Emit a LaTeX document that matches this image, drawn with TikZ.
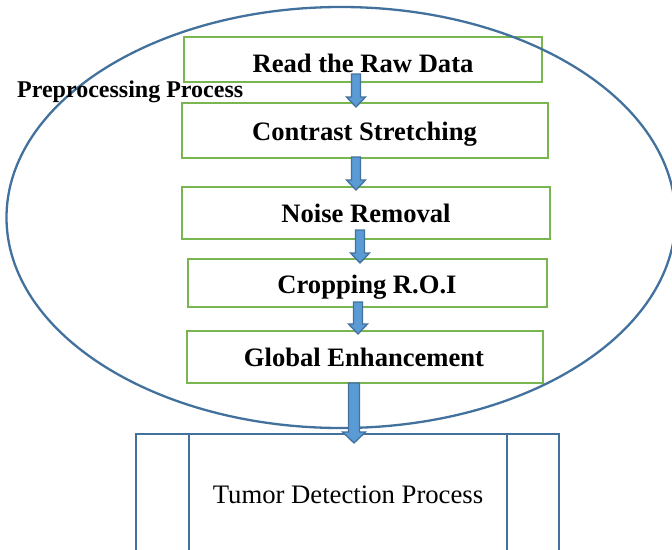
\documentclass[tikz,border=0pt]{standalone}
\usepackage{fontspec}
\setmainfont{Liberation Serif}
\usetikzlibrary{calc,shapes.geometric}
\definecolor{boxgreen}{RGB}{122,182,80}
\definecolor{ellblue}{RGB}{65,113,156}
\definecolor{arrfill}{RGB}{91,155,213}
\definecolor{arrline}{RGB}{65,113,156}
\tikzset{
  stepbox/.style={draw=boxgreen, line width=1.2pt, rectangle, inner sep=0pt},
  steptext/.style={anchor=base, inner sep=0pt, font=\fontsize{26.6}{29}\selectfont\bfseries},
  blockarrow/.style={fill=arrfill, draw=arrline, line width=1.3pt, line join=miter},
}
% #1 start coord, #2 tip coord, #3 shaft half width, #4 head half width, #5 head length
\newcommand{\barrow}[5]{%
  \draw[blockarrow] ($(#1)+(-#3,0)$) -- ($(#1)+(#3,0)$) -- ($(#2)+(#3,-#5)$) -- ($(#2)+(#4,-#5)$) -- (#2)
     -- ($(#2)+(-#4,-#5)$) -- ($(#2)+(-#3,-#5)$) -- cycle;}
\begin{document}
\begin{tikzpicture}[x=1pt,y=-1pt]
\useasboundingbox (0,0) rectangle (672,549);
\clip (0,0) rectangle (672,549);
% process boxes
\node[stepbox, minimum width=358pt, minimum height=45pt] (b1) at (363,59.5) {};
\node[stepbox, minimum width=366pt, minimum height=55pt] (b2) at (365,130.5) {};
\node[stepbox, minimum width=368pt, minimum height=52pt] (b3) at (366,213) {};
\node[stepbox, minimum width=359pt, minimum height=48pt] (b4) at (367.5,283) {};
\node[stepbox, minimum width=356pt, minimum height=52pt] (b5) at (365,357) {};
% tumor detection box
\node[draw=ellblue, line width=1.5pt, rectangle, inner sep=0pt, minimum width=423pt, minimum height=130pt] (td) at (347.5,499) {};
\draw[ellblue, line width=1.5pt] (189,434) -- (189,560);
\draw[ellblue, line width=1.5pt] (507,434) -- (507,560);
% ellipse
\node[draw=ellblue, line width=2.3pt, ellipse, inner sep=0pt, minimum width=669pt, minimum height=421pt] (ell) at (341,217.5) {};
% texts
\node[steptext] (t1) at (363,72) {Read the Raw Data};
\node[steptext] (t2) at (364.5,140) {Contrast Stretching};
\node[steptext] (t3) at (366,222.7) {Noise Removal};
\node[steptext] (t4) at (367,293) {Cropping R.O.I};
\node[steptext] (t5) at (364,366) {Global Enhancement};
\node[anchor=base west, inner sep=0pt, font=\fontsize{24}{27}\selectfont\bfseries] (pp) at (17,97.3) {Preprocessing Process};
\node[anchor=base, inner sep=0pt, font=\fontsize{26.7}{29}\selectfont] (tdt) at (348,503) {Tumor Detection Process};
% arrows
\coordinate (a1s) at (356,74);  \coordinate (a1t) at (356,107);
\coordinate (a2s) at (356,157); \coordinate (a2t) at (356,190);
\coordinate (a3s) at (360,230); \coordinate (a3t) at (360,263);
\coordinate (a4s) at (358,302); \coordinate (a4t) at (358,334);
\coordinate (a5s) at (354,383); \coordinate (a5t) at (354,443);
\barrow{a1s}{a1t}{4.5}{9.5}{10}
\barrow{a2s}{a2t}{4.5}{9.5}{10}
\barrow{a3s}{a3t}{4.5}{9.5}{10}
\barrow{a4s}{a4t}{4.5}{9.5}{10}
\barrow{a5s}{a5t}{5.5}{11.5}{11}
\end{tikzpicture}
\end{document}
